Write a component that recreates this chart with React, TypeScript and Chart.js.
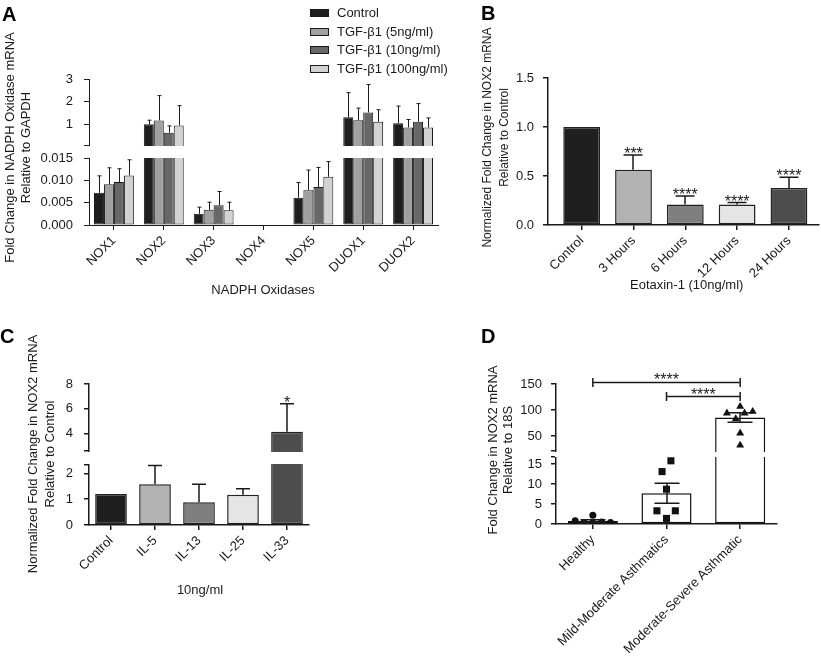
import React, { useEffect, useRef } from 'react';
import { Chart, registerables, LinearScale } from 'chart.js';

Chart.register(...registerables);

const FONT = '"Liberation Sans", Arial, Helvetica, sans-serif';
const INK = '#1a1a1a';
Chart.defaults.font.family = FONT;
Chart.defaults.color = INK;

// ---------- broken (two-segment) linear axis ----------
class BrokenScale extends LinearScale {
  static id = 'broken';
  toDecimal(value: number) {
    const o: any = this.options;
    const lo = (this as any).min, hi = (this as any).max;
    const a = o.brkLoMax, b = o.brkHiMin, e = o.brkLoEnd, s = o.brkHiStart;
    if (value <= a) return ((value - lo) / (a - lo)) * e;
    if (value >= b) return s + ((value - b) / (hi - b)) * (1 - s);
    return e + ((value - a) / (b - a)) * (s - e);
  }
  getPixelForValue(value: number) {
    if (value === null || value === undefined || Number.isNaN(value)) return NaN;
    return (this as any).getPixelForDecimal(this.toDecimal(value));
  }
  getValueForPixel(pixel: number) {
    const d = (this as any).getDecimalForPixel(pixel);
    const o: any = this.options;
    const lo = (this as any).min, hi = (this as any).max;
    const a = o.brkLoMax, b = o.brkHiMin, e = o.brkLoEnd, s = o.brkHiStart;
    if (d <= e) return lo + (d / e) * (a - lo);
    if (d >= s) return b + ((d - s) / (1 - s)) * (hi - b);
    return a + ((d - e) / (s - e)) * (b - a);
  }
}
Chart.register(BrokenScale as any);

// ---------- DATA: panel A ----------
const oxidases = ['NOX1', 'NOX2', 'NOX3', 'NOX4', 'NOX5', 'DUOX1', 'DUOX2'];
const seriesA = ['Control', 'TGF-β1 (5ng/ml)', 'TGF-β1 (10ng/ml)', 'TGF-β1 (100ng/ml)'];
const controlA = [0.0072, 1.01, 0.0025, 0, 0.0061, 1.32, 1.06];
const tgf5A = [0.0091, 1.18, 0.0034, 0, 0.0078, 1.19, 0.87];
const tgf10A = [0.0096, 0.64, 0.0044, 0, 0.0085, 1.53, 1.12];
const tgf100A = [0.0111, 0.96, 0.0033, 0, 0.0108, 1.12, 0.87];
const controlAErr = [0.0038, 0.18, 0.0015, 0, 0.0034, 1.08, 0.75];
const tgf5AErr = [0.0037, 1.09, 0.0017, 0, 0.0045, 0.53, 0.35];
const tgf10AErr = [0.003, 0.3, 0.0031, 0, 0.0044, 1.23, 0.8];
const tgf100AErr = [0.0035, 0.87, 0.0018, 0, 0.0034, 0.53, 0.42];
const yTicksA = [0, 0.005, 0.01, 0.015, 0.1, 1, 2, 3];
const yLabelsA = ['0.000', '0.005', '0.010', '0.015', '', '1', '2', '3'];

// ---------- DATA: panel B ----------
const timepoints = ['Control', '3 Hours', '6 Hours', '12 Hours', '24 Hours'];
const nox2B = [1.0, 0.565, 0.208, 0.208, 0.378];
const nox2BErr = [0, 0.149, 0.088, 0.021, 0.109];
const sigB = ['', '***', '****', '****', '****'];
const yTicksB = [0, 0.5, 1, 1.5];
const yLabelsB = ['0.0', '0.5', '1.0', '1.5'];

// ---------- DATA: panel C ----------
const cytokines = ['Control', 'IL-5', 'IL-13', 'IL-25', 'IL-33'];
const nox2C = [1.2, 1.58, 0.88, 1.17, 4.16];
const nox2CErr = [0, 0.72, 0.7, 0.23, 2.24];
const sigC = ['', '', '', '', '*'];
const yTicksC = [0, 1, 2, 2.35, 2.6, 4, 6, 8];
const yLabelsC = ['0', '1', '2', '', '', '4', '6', '8'];

// ---------- DATA: panel D ----------
const groupsD = ['Healthy', 'Mild-Moderate Asthmatics', 'Moderate-Severe Asthmatic'];
const meanD = [0.75, 7.7, 85.8];
const semD = [0.3, 2.5, 9];
const healthyD = [0.8, 0.35, 2.2, 0.3, 0.5, 0.35];
const mildD = [15.8, 13.1, 8.7, 3.3, 3.3, 1.4];
const severeD = [106.9, 94.2, 83.3, 94.2, 97.3, 55.8, 32.7];
const healthyJitter = [-0.24, -0.12, 0, 0, 0.12, 0.24];
const mildJitter = [0.06, -0.06, 0, -0.13, 0.12, 0];
const severeJitter = [0, -0.18, -0.06, 0.06, 0.17, 0, 0];
const bracketFrom = [0, 1];
const bracketTo = [2, 2];
const bracketY = [153, 126];
const bracketLabel = ['****', '****'];
const yTicksD = [0, 5, 10, 15, 16.75, 21.7, 50, 100, 150];
const yLabelsD = ['0', '5', '10', '15', '', '', '50', '100', '150'];

// ---------- helpers ----------
function yAxis(width: number, pad: number, ticks: number[], labels: string[], lw: number, extra: any) {
  return {
    ...extra,
    afterFit: (s: any) => { s.width = width; },
    afterBuildTicks: (s: any) => { s.ticks = ticks.map((v) => ({ value: v })); },
    grid: { display: true, drawOnChartArea: false, drawTicks: true, tickLength: 5, color: INK, lineWidth: lw },
    border: { display: true, color: INK, width: lw },
    ticks: { autoSkip: false, padding: pad, color: INK, font: { size: 13, family: FONT }, callback: (_v: any, i: number) => labels[i] },
  };
}

function xAxis(height: number, lw: number, extra: any = {}) {
  return {
    offset: true,
    ...extra,
    afterFit: (s: any) => { s.height = height; },
    grid: { display: true, offset: false, drawOnChartArea: false, drawTicks: true, tickLength: 5, color: INK, lineWidth: lw },
    border: { display: true, color: INK, width: lw },
    ticks: { autoSkip: false, maxRotation: 45, minRotation: 45, padding: 3, color: INK, font: { size: 13, family: FONT }, ...(extra.ticks || {}) },
  };
}

function overlayPlugin(cfg: { capW: number; lineW: number; both?: boolean; sigSize?: number; sigGap?: number; brackets?: boolean }) {
  return {
    id: 'overlay',
    afterDatasetsDraw(chart: any) {
      const ctx = chart.ctx;
      const area = chart.chartArea;
      const ys = chart.scales.y;
      ctx.save();
      if (ys.options.brkLoMax !== undefined) {
        const p1 = Math.round(ys.getPixelForValue(ys.options.brkHiMin));
        const p2 = Math.round(ys.getPixelForValue(ys.options.brkLoMax));
        ctx.fillStyle = '#ffffff';
        ctx.fillRect(area.left - 1, p1 + 1, area.right - area.left + 4, p2 - p1 - 1);
      }
      ctx.strokeStyle = INK;
      ctx.fillStyle = INK;
      ctx.lineWidth = cfg.lineW;
      chart.data.datasets.forEach((ds: any, di: number) => {
        if (!ds.errorBars) return;
        const meta = chart.getDatasetMeta(di);
        const sc = chart.scales[meta.yAxisID];
        meta.data.forEach((el: any, i: number) => {
          const raw = ds.data[i];
          const v = typeof raw === 'number' ? raw : raw.y;
          const e = ds.errorBars[i];
          const off = cfg.lineW % 2 === 1 ? 0.5 : 0;
          const x = Math.round(el.x) + off;
          const yv = sc.getPixelForValue(v);
          const yt = sc.getPixelForValue(v + e);
          if (e) {
            ctx.beginPath();
            ctx.moveTo(x, yv);
            ctx.lineTo(x, yt);
            ctx.moveTo(x - cfg.capW / 2, yt);
            ctx.lineTo(x + cfg.capW / 2, yt);
            if (cfg.both) {
              const yb = sc.getPixelForValue(v - e);
              ctx.moveTo(x, yv);
              ctx.lineTo(x, yb);
              ctx.moveTo(x - cfg.capW / 2, yb);
              ctx.lineTo(x + cfg.capW / 2, yb);
            }
            ctx.stroke();
          }
          if (ds.sigLabels && ds.sigLabels[i]) {
            ctx.font = `${cfg.sigSize || 16}px ${FONT}`;
            ctx.textAlign = 'center';
            ctx.textBaseline = 'alphabetic';
            ctx.fillText(ds.sigLabels[i], el.x, yt + (cfg.sigGap || 4));
          }
        });
      });
      if (cfg.brackets) {
        const xs = chart.scales.x;
        ctx.lineWidth = 1.5;
        bracketFrom.forEach((f, k) => {
          const x1 = xs.getPixelForValue(f);
          const x2 = xs.getPixelForValue(bracketTo[k]);
          const yy = ys.getPixelForValue(bracketY[k]);
          ctx.beginPath();
          ctx.moveTo(x1, yy); ctx.lineTo(x2, yy);
          ctx.moveTo(x1, yy - 4.5); ctx.lineTo(x1, yy + 4.5);
          ctx.moveTo(x2, yy - 4.5); ctx.lineTo(x2, yy + 4.5);
          ctx.stroke();
          ctx.font = `16px ${FONT}`;
          ctx.textAlign = 'center';
          ctx.textBaseline = 'alphabetic';
          ctx.fillText(bracketLabel[k], (x1 + x2) / 2, yy + 3);
        });
      }
      ctx.restore();
    },
  };
}

function titlesPlugin(cfg: { yLines: string[]; yXs: number[]; yCy: number; ySize: number; xText?: string; xX?: number; xY?: number }) {
  return {
    id: 'titles',
    afterDraw(chart: any) {
      const ctx = chart.ctx;
      ctx.save();
      ctx.fillStyle = INK;
      ctx.textAlign = 'center';
      ctx.textBaseline = 'middle';
      ctx.font = `${cfg.ySize}px ${FONT}`;
      cfg.yLines.forEach((line, i) => {
        ctx.save();
        ctx.translate(cfg.yXs[i], cfg.yCy);
        ctx.rotate(-Math.PI / 2);
        ctx.fillText(line, 0, 0);
        ctx.restore();
      });
      if (cfg.xText) {
        ctx.font = `13px ${FONT}`;
        ctx.fillText(cfg.xText, cfg.xX, cfg.xY);
      }
      ctx.restore();
    },
  };
}

function legendPlugin(cfg: { x: number; y0: number; dy: number; boxW: number; boxH: number; textX: number }) {
  return {
    id: 'legendA',
    afterDraw(chart: any) {
      const ctx = chart.ctx;
      ctx.save();
      ctx.font = `13px ${FONT}`;
      ctx.textBaseline = 'middle';
      ctx.textAlign = 'left';
      chart.data.datasets.forEach((ds: any, i: number) => {
        const cy = cfg.y0 + i * cfg.dy;
        const top = Math.round(cy - cfg.boxH / 2);
        ctx.fillStyle = ds.backgroundColor;
        ctx.fillRect(cfg.x, top, cfg.boxW, cfg.boxH);
        ctx.strokeStyle = INK;
        ctx.lineWidth = 1;
        ctx.strokeRect(cfg.x + 0.5, top + 0.5, cfg.boxW - 1, cfg.boxH - 1);
        ctx.fillStyle = INK;
        ctx.fillText(ds.label, cfg.textX, cy + 0.5);
      });
      ctx.restore();
    },
  };
}

const baseOptions = {
  responsive: false,
  animation: false as const,
  events: [] as any[],
  plugins: { legend: { display: false }, tooltip: { enabled: false } },
};

// ---------- configs ----------
function configA(): any {
  const colors = ['#1e1e1e', '#a0a0a0', '#686868', '#d2d2d2'];
  const vals = [controlA, tgf5A, tgf10A, tgf100A];
  const errs = [controlAErr, tgf5AErr, tgf10AErr, tgf100AErr];
  return {
    type: 'bar',
    data: {
      labels: oxidases,
      datasets: seriesA.map((label, k) => ({
        label,
        data: vals[k],
        backgroundColor: colors[k],
        borderColor: INK,
        borderWidth: 1,
        borderSkipped: false,
        categoryPercentage: 0.8,
        barPercentage: 1,
        errorBars: errs[k],
      })),
    },
    options: {
      ...baseOptions,
      layout: { padding: { left: 0, top: 79, right: 22, bottom: 0 } },
      scales: {
        x: xAxis(105, 1),
        y: yAxis(89, 11, yTicksA, yLabelsA, 1, {
          type: 'broken', min: 0, max: 3,
          brkLoMax: 0.015, brkLoEnd: 0.4589, brkHiMin: 0.1, brkHiStart: 0.5479,
        }),
      },
    },
    plugins: [
      overlayPlugin({ capW: 4, lineW: 1 }),
      titlesPlugin({
        yLines: ['Fold Change in NADPH Oxidase mRNA', 'Relative to GAPDH'],
        yXs: [10, 26.5], yCy: 147.5, ySize: 13,
        xText: 'NADPH Oxidases', xX: 263, xY: 290,
      }),
      legendPlugin({ x: 310, y0: 12.8, dy: 18.7, boxW: 19, boxH: 8, textX: 337 }),
    ],
  };
}

function configB(): any {
  const colors = ['#1f1f1f', '#b2b2b2', '#7f7f7f', '#e5e5e5', '#4d4d4d'];
  return {
    type: 'bar',
    data: {
      datasets: [{
        data: timepoints.map((_, i) => ({ x: i, y: nox2B[i] })),
        backgroundColor: colors,
        borderColor: '#222',
        borderWidth: 1.5,
        borderSkipped: false,
        categoryPercentage: 1,
        barPercentage: 0.71,
        errorBars: nox2BErr,
        sigLabels: sigB,
      }],
    },
    options: {
      ...baseOptions,
      layout: { padding: { left: 0, top: 78, right: 2, bottom: 0 } },
      scales: {
        x: xAxis(105, 1.5, {
          type: 'linear', offset: false, min: -0.65, max: 4.58, bounds: 'data',
          afterBuildTicks: (s: any) => { s.ticks = timepoints.map((_, i) => ({ value: i })); },
          ticks: { callback: (_v: any, i: number) => timepoints[i] },
        }),
        y: yAxis(88, 9, yTicksB, yLabelsB, 1.5, { type: 'linear', min: 0, max: 1.5 }),
      },
    },
    plugins: [
      overlayPlugin({ capW: 19, lineW: 1.5, sigSize: 16, sigGap: 4 }),
      titlesPlugin({
        yLines: ['Normalized Fold Change in NOX2 mRNA', 'Relative to Control'],
        yXs: [28, 44.5], yCy: 137.5, ySize: 12,
        xText: 'Eotaxin-1 (10ng/ml)', xX: 226.7, xY: 285.7,
      }),
    ],
  };
}

function configC(): any {
  const colors = ['#1f1f1f', '#b2b2b2', '#7f7f7f', '#e5e5e5', '#4d4d4d'];
  return {
    type: 'bar',
    data: {
      labels: cytokines,
      datasets: [{
        data: nox2C,
        backgroundColor: colors,
        borderColor: '#222',
        borderWidth: 1.5,
        borderSkipped: false,
        categoryPercentage: 1,
        barPercentage: 0.72,
        errorBars: nox2CErr,
        sigLabels: sigC,
      }],
    },
    options: {
      ...baseOptions,
      layout: { padding: { left: 0, top: 54, right: 151, bottom: 0 } },
      scales: {
        x: xAxis(136, 1.5),
        y: yAxis(89, 11, yTicksC, yLabelsC, 1.5, {
          type: 'broken', min: 0, max: 8,
          brkLoMax: 2.35, brkLoEnd: 0.4305, brkHiMin: 2.6, brkHiStart: 0.5248,
        }),
      },
    },
    plugins: [
      overlayPlugin({ capW: 14, lineW: 1.5, sigSize: 16, sigGap: 4 }),
      titlesPlugin({
        yLines: ['Normalized Fold Change in NOX2 mRNA', 'Relative to Control'],
        yXs: [33, 50], yCy: 124, ySize: 13,
        xText: '10ng/ml', xX: 200, xY: 260.7,
      }),
    ],
  };
}

function configD(): any {
  const jit = [healthyJitter, mildJitter, severeJitter];
  const pts = [healthyD, mildD, severeD];
  const styles = ['circle', 'rect', 'triangle'];
  const radii = [3.5, 5, 4.6];
  return {
    type: 'bar',
    data: {
      labels: groupsD,
      datasets: [
        ...pts.map((arr, g) => ({
          type: 'scatter',
          xAxisID: 'xs',
          yAxisID: 'y',
          data: arr.map((v, i) => ({ x: g + jit[g][i], y: v })),
          pointStyle: styles[g],
          pointRadius: radii[g],
          backgroundColor: '#111',
          borderColor: '#111',
          borderWidth: 0,
        })),
        {
          type: 'bar',
          xAxisID: 'x',
          yAxisID: 'y',
          data: meanD,
          backgroundColor: '#ffffff',
          borderColor: '#111',
          borderWidth: 1.5,
          borderSkipped: false,
          grouped: false,
          categoryPercentage: 1,
          barPercentage: 0.68,
          errorBars: semD,
        },
      ],
    },
    options: {
      ...baseOptions,
      layout: { padding: { left: 0, top: 54, right: 44, bottom: 0 } },
      scales: {
        x: xAxis(137, 1.5),
        xs: { type: 'linear', display: false, min: -0.5, max: 2.5, offset: false, bounds: 'data' },
        y: yAxis(96, 9, yTicksD, yLabelsD, 1.5, {
          type: 'broken', min: 0, max: 150,
          brkLoMax: 16.75, brkLoEnd: 0.4786, brkHiMin: 21.7, brkHiStart: 0.5214,
        }),
      },
    },
    plugins: [
      overlayPlugin({ capW: 25, lineW: 1.5, both: true, brackets: true }),
      titlesPlugin({
        yLines: ['Fold Change in NOX2 mRNA', 'Relative to 18S'],
        yXs: [33, 48.5], yCy: 120, ySize: 13,
      }),
    ],
  };
}

function Panel({ x, y, w, h, build }: { x: number; y: number; w: number; h: number; build: () => any }) {
  const ref = useRef<HTMLCanvasElement>(null);
  useEffect(() => {
    if (!ref.current) return;
    const chart = new Chart(ref.current, build());
    return () => chart.destroy();
  }, [build]);
  return (
    <canvas
      ref={ref}
      width={w}
      height={h}
      style={{ position: 'absolute', left: x, top: y, width: w, height: h, display: 'block' }}
    />
  );
}

const letterStyle: React.CSSProperties = {
  position: 'absolute',
  fontFamily: FONT,
  fontWeight: 'bold',
  fontSize: 20,
  lineHeight: '20px',
  color: '#000',
};

export default function App() {
  return (
    <div style={{ position: 'fixed', left: 0, top: 0, width: 821, height: 661, background: '#fff', overflow: 'hidden' }}>
      <Panel x={0} y={0} w={460} h={330} build={configA} />
      <Panel x={460} y={0} w={361} h={330} build={configB} />
      <Panel x={0} y={330} w={460} h={331} build={configC} />
      <Panel x={460} y={330} w={361} h={331} build={configD} />
      <div style={{ ...letterStyle, left: 2, top: 4 }}>A</div>
      <div style={{ ...letterStyle, left: 481, top: 3 }}>B</div>
      <div style={{ ...letterStyle, left: 0, top: 326 }}>C</div>
      <div style={{ ...letterStyle, left: 481, top: 326 }}>D</div>
    </div>
  );
}
